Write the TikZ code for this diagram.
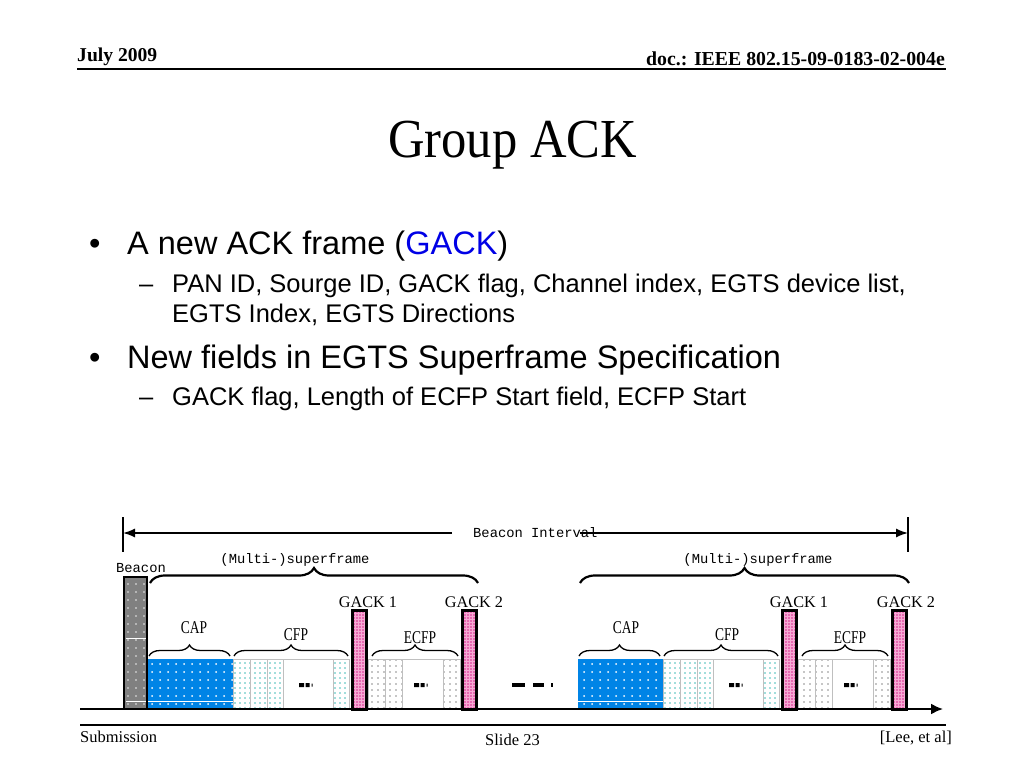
\documentclass[tikz,border=0pt]{standalone}
\usepackage{fontspec}
\setmainfont{Liberation Serif}
\setsansfont{Liberation Sans}
\setmonofont{Liberation Mono}
\newfontfamily\titlefont[FakeStretch=0.92]{Liberation Serif}
\newfontfamily\slotfont[FakeStretch=0.75]{Liberation Serif}
\usetikzlibrary{arrows.meta,patterns.meta,decorations.pathreplacing}
\definecolor{capblue}{RGB}{0,132,230}
\definecolor{beacongray}{RGB}{128,128,128}
\definecolor{cfpteal}{RGB}{70,190,185}
\definecolor{ecfpgray}{RGB}{140,140,140}
\definecolor{gackpink}{RGB}{246,170,212}
\definecolor{gackdot}{RGB}{215,40,140}
\definecolor{gackblue}{RGB}{0,0,230}
\tikzset{
 beaconbox/.style={draw=black,line width=2.5pt,preaction={fill=beacongray},pattern={Dots[distance=8pt,radius=0.9pt]},pattern color=white!85!gray},
 capbox/.style={preaction={fill=capblue},pattern={Dots[distance=8pt,radius=1pt]},pattern color=white},
 cfpcell/.style={draw=gray!50,line width=0.6pt,pattern={Dots[distance=5pt,radius=0.95pt]},pattern color=cfpteal},
 ecfpcell/.style={draw=gray!50,line width=0.6pt,pattern={Dots[distance=6pt,radius=0.9pt]},pattern color=ecfpgray},
 emptycell/.style={draw=gray!50,line width=0.6pt,fill=white},
 gackbox/.style={draw=black,line width=3pt,preaction={fill=gackpink},pattern={Dots[distance=3pt,radius=0.85pt]},pattern color=gackdot},
 bigbrace/.style={decorate,decoration={brace,amplitude=15pt},line width=2.2pt},
 smallbrace/.style={decorate,decoration={brace,amplitude=11pt},line width=1.3pt},
 monolabel/.style={inner sep=0pt,font=\fontsize{13.8}{16}\ttfamily},
 slotlabel/.style={inner sep=0pt,font=\fontsize{18}{20}\slotfont},
 gacklabel/.style={inner sep=0pt,font=\fontsize{16.2}{18}\rmfamily},
 bigtext/.style={inner sep=0pt,anchor=base west,font=\fontsize{32.5}{36}\sffamily},
 subtext/.style={inner sep=0pt,anchor=base west,font=\fontsize{25.5}{30}\sffamily},
 foottext/.style={inner sep=0pt,font=\fontsize{16.5}{18}\rmfamily},
}
\begin{document}
\begin{tikzpicture}[x=1pt,y=-1pt]
 \useasboundingbox (0,0) rectangle (1024,768);
 \fill[white] (0,0) rectangle (1024,768);
 % header and footer
 \node[inner sep=0pt,anchor=base west,font=\fontsize{19.6}{22}\bfseries] (hdate) at (77,61) {July 2009};
 \node[inner sep=0pt,anchor=base east,font=\fontsize{19.8}{22}\bfseries] (hdoc) at (945,65) {doc.: IEEE 802.15-09-0183-02-004e};
 \draw[line width=1.5pt] (77,69) -- (946,69);
 \draw[line width=1.5pt] (80,725) -- (946,725);
 \node[foottext,anchor=base west] (fsub) at (80,742) {Submission};
 \node[foottext,anchor=base] (fslide) at (512.5,745) {Slide 23};
 \node[foottext,anchor=base east] (fauth) at (952,742) {[Lee, et al]};
 % title and bullets
 \node[inner sep=0pt,anchor=base,font=\fontsize{55}{60}\titlefont] (title) at (512.5,157) {Group ACK};
 \node[bigtext] (bulA) at (89,254) {•};
 \node[bigtext] (bulAtxt) at (127,254) {A new ACK frame (\textcolor{gackblue}{GACK})};
 \node[subtext] (subA) at (139,292) {–};
 \node[subtext] (subAtxt) at (172,292) {PAN ID, Sourge ID, GACK flag, Channel index, EGTS device list,};
 \node[subtext] (subAtxtb) at (172,322) {EGTS Index, EGTS Directions};
 \node[bigtext] (bulB) at (89,368) {•};
 \node[bigtext] (bulBtxt) at (127,368) {New fields in EGTS Superframe Specification};
 \node[subtext] (subB) at (139,405) {–};
 \node[subtext] (subBtxt) at (172,405) {GACK flag, Length of ECFP Start field, ECFP Start};
 % beacon interval
 \draw[line width=2.5pt] (123,517) -- (123,552);
 \draw[line width=2.5pt] (908,517) -- (908,552);
 \coordinate (biL) at (123,533);
 \coordinate (biR) at (908,533);
 \coordinate (biLs) at (452,533);
 \coordinate (biRs) at (580,533);
 \node[monolabel,anchor=west] (bint) at (473,533) {Beacon Interval};
 \draw[line width=1.5pt,-{Latex[length=12pt,width=9pt]}] (biLs) -- (biL);
 \draw[line width=1.5pt,-{Latex[length=12pt,width=9pt]}] (biRs) -- (biR);
 % superframe braces
 \node[monolabel] (beac) at (141,568) {Beacon};
 \node[monolabel] (msfA) at (295,560) {(Multi-)superframe};
 \node[monolabel] (msfB) at (758,560) {(Multi-)superframe};
 \draw[bigbrace] (150,583) -- (478,583);
 \draw[bigbrace] (580,583) -- (909,583);
 % first superframe
 \draw[beaconbox] (124,577) rectangle (147,709);
 \draw[white,line width=1pt] (125.5,638) -- (145.5,638);
 \draw[white,line width=1pt] (125.5,701) -- (145.5,701);
 \path[capbox] (148,659) rectangle (233,709);
 \draw[white,line width=1pt] (148,701) -- (233,701);
 \draw[cfpcell] (233,659) rectangle (250,709);
 \draw[cfpcell] (250,659) rectangle (267,709);
 \draw[cfpcell] (267,659) rectangle (283,709);
 \draw[emptycell] (283,659) rectangle (333,709);
 \draw[cfpcell] (333,659) rectangle (349,709);
 \fill (299,683) rectangle (304,687) (305.5,683) rectangle (309.5,687) (311.5,683.5) rectangle (312.5,686.5);
 \draw[ecfpcell] (368,659) rectangle (385,709);
 \draw[ecfpcell] (385,659) rectangle (402,709);
 \draw[emptycell] (402,659) rectangle (443,709);
 \draw[ecfpcell] (443,659) rectangle (460,709);
 \fill (414,683) rectangle (419,687) (420.5,683) rectangle (424.5,687) (426.5,683.5) rectangle (427.5,686.5);
 \draw[gackbox] (352.5,610.5) rectangle (366.5,709);
 \draw[gackbox] (462.5,610.5) rectangle (476.5,709);
 \draw[smallbrace] (149,656) -- (230,656);
 \draw[smallbrace] (234,656) -- (348,656);
 \draw[smallbrace] (372,656) -- (458,656);
 \node[slotlabel] (capA) at (194,628) {CAP};
 \node[slotlabel] (cfpA) at (296,635) {CFP};
 \node[slotlabel] (ecfpA) at (420,638) {ECFP};
 \node[gacklabel] (gackAa) at (368,602) {GACK 1};
 \node[gacklabel] (gackAb) at (474,602) {GACK 2};
 % gap
 \draw[line width=3.5pt] (512,685) -- (525,685) (533,685) -- (544,685);
 \draw[line width=1.5pt] (552,683) -- (552,687);
 % second superframe
 \path[capbox] (578,659) rectangle (663,709);
 \draw[white,line width=1pt] (578,701) -- (663,701);
 \draw[cfpcell] (663,659) rectangle (680,709);
 \draw[cfpcell] (680,659) rectangle (697,709);
 \draw[cfpcell] (697,659) rectangle (713,709);
 \draw[emptycell] (713,659) rectangle (763,709);
 \draw[cfpcell] (763,659) rectangle (779,709);
 \fill (729,683) rectangle (734,687) (735.5,683) rectangle (739.5,687) (741.5,683.5) rectangle (742.5,686.5);
 \draw[ecfpcell] (798,659) rectangle (815,709);
 \draw[ecfpcell] (815,659) rectangle (832,709);
 \draw[emptycell] (832,659) rectangle (873,709);
 \draw[ecfpcell] (873,659) rectangle (890,709);
 \fill (844,683) rectangle (849,687) (850.5,683) rectangle (854.5,687) (856.5,683.5) rectangle (857.5,686.5);
 \draw[gackbox] (782.5,610.5) rectangle (796.5,709);
 \draw[gackbox] (892.5,610.5) rectangle (906.5,709);
 \draw[smallbrace] (579,656) -- (660,656);
 \draw[smallbrace] (664,656) -- (778,656);
 \draw[smallbrace] (802,656) -- (888,656);
 \node[slotlabel] (capB) at (626,628) {CAP};
 \node[slotlabel] (cfpB) at (727,635) {CFP};
 \node[slotlabel] (ecfpB) at (850,638) {ECFP};
 \node[gacklabel] (gackBa) at (799,602) {GACK 1};
 \node[gacklabel] (gackBb) at (906,602) {GACK 2};
 % time axis
 \draw[line width=2pt,-{Latex[length=12pt,width=11pt]}] (80,709) -- (943,709);
\end{tikzpicture}
\end{document}
